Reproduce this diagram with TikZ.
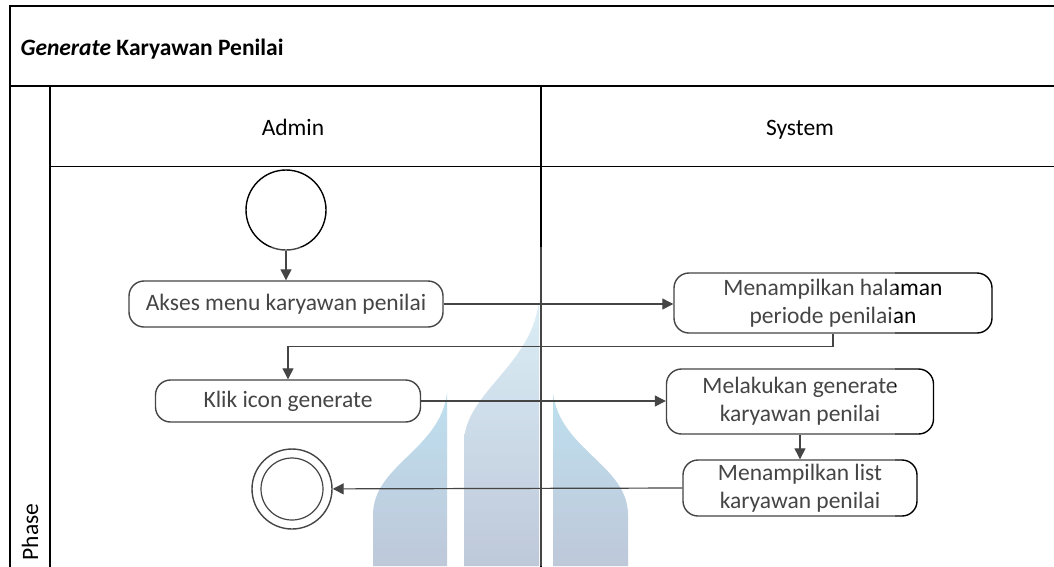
\documentclass[tikz,border=0pt]{standalone}
\usepackage{fontspec}
\setmainfont{Carlito}
\usetikzlibrary{arrows.meta}
\begin{document}
\begin{tikzpicture}[x=1pt, y=-1pt,
  every node/.style={font=\fontsize{23.5}{28}\selectfont},
  frameline/.style={line width=1.9pt, black},
  laneline/.style={line width=1.5pt, black},
  act/.style={draw=black, line width=1.4pt, rounded corners=15pt, align=center, inner sep=0pt},
  flow/.style={draw=black, line width=1.2pt, -{Triangle[length=11pt,width=11pt]}},
  initial/.style={circle, draw=black, line width=1.4pt, minimum size=80pt, inner sep=0pt},
  flame/.style={top color=flameTop, middle color=flameMid, bottom color=flameLow}
]
\definecolor{flameTop}{HTML}{A6D5EA}
\definecolor{flameMid}{HTML}{A0C6DD}
\definecolor{flameLow}{HTML}{A6B4CC}

\useasboundingbox (0,0) rectangle (1054,566);
\fill[white] (0,0) rectangle (1054,566);

% faded logo backdrop
\shade[flame] (373,566) -- (373,515) .. controls (373,465) and (440,450) .. (447,393) -- (447,566) -- cycle;
\shade[flame, top color=flameTop!55!white] (464,566) -- (464,443) .. controls (464,393) and (533,365) .. (539,300) -- (539,566) -- cycle;
\shade[flame] (553,566) -- (553,393) .. controls (560,450) and (628,465) .. (628,515) -- (628,566) -- cycle;

% swimlane frame
\draw[frameline] (10,570) -- (10,6) -- (1060,6);
\draw[laneline] (10,86) -- (1060,86);
\draw[laneline] (50,570) -- (50,86);
\draw[laneline] (50,166.5) -- (1060,166.5);
\draw[laneline] (541,86) -- (541,570);

% titles
\node[anchor=base west, font=\fontsize{23.5}{28}\selectfont\bfseries] (title) at (17,55) {\textit{Generate} Karyawan Penilai};
\node[anchor=base] (admin) at (293,135) {Admin};
\node[anchor=base] (system) at (800,135) {System};
\node[anchor=base west, rotate=90] (phase) at (38,564) {Phase};

% activities
\node[initial] (start) at (286,210) {};
\node[act, minimum width=314pt, minimum height=46pt] (akses) at (286,304) {Akses menu karyawan penilai};
\node[act, minimum width=318pt, minimum height=60pt] (halaman) at (833,303) {Menampilkan halaman\\periode penilaian};
\node[act, minimum width=265pt, minimum height=42pt] (klik) at (288,401) {Klik icon generate};
\node[act, minimum width=267pt, minimum height=65pt] (generate) at (800,401.5) {Melakukan generate\\karyawan penilai};
\node[act, minimum width=234pt, minimum height=56pt] (list) at (800,488) {Menampilkan list\\karyawan penilai};
\node[initial] (final) at (292,489) {};
\node[circle, draw=black, line width=1.2pt, minimum size=62pt, inner sep=0pt] (finalin) at (final.center) {};

% control flow
\draw[flow] (start.south) -- (akses.north);
\draw[flow] (akses.east) -- (akses.east -| halaman.west);
\draw[flow] (halaman.south) -- ++(0,13) -| (klik.north);
\draw[flow] (klik.east) -- (klik.east -| generate.west);
\draw[flow] (generate.south) -- (list.north);
\draw[flow] (list.west) -- (final);

% light veil over the lower part of the lanes
\fill[white, opacity=0.27] (60,247) rectangle (895,566);
\end{tikzpicture}
\end{document}
